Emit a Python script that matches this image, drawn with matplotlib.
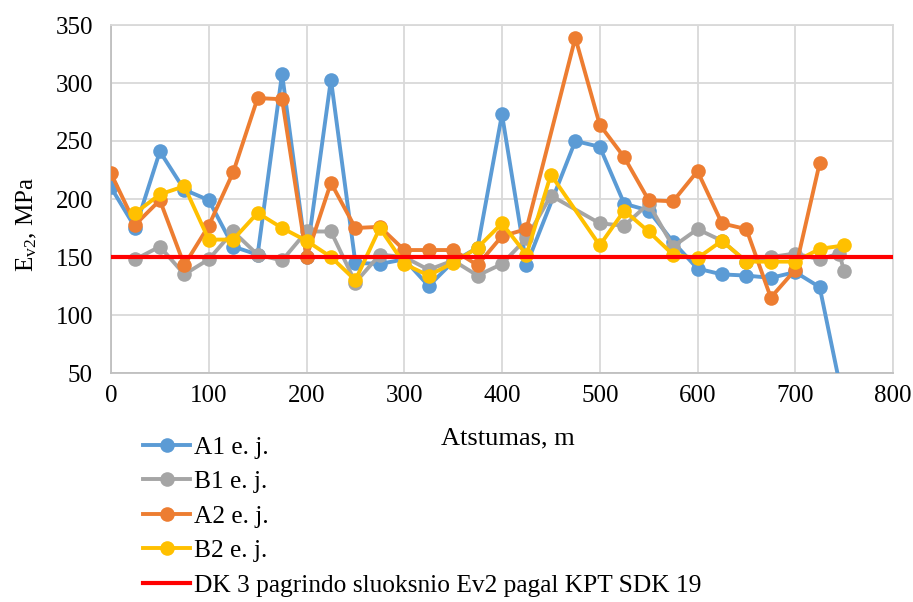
import numpy as np
import matplotlib
matplotlib.use("Agg")
import matplotlib.pyplot as plt
from matplotlib.lines import Line2D

plt.rcParams['font.family'] = ['Liberation Serif', 'DejaVu Serif']
plt.rcParams['mathtext.fontset'] = 'custom'
plt.rcParams['mathtext.rm'] = 'Liberation Serif'
plt.rcParams['mathtext.it'] = 'Liberation Serif:italic'

# Ev2 measurements along the road (distance in m, modulus in MPa)
a1_x = [0, 25, 50, 75, 100, 125, 150, 175, 200, 225, 250, 275, 300, 325, 350, 375,
        400, 425, 475, 500, 525, 550, 575, 600, 625, 650, 675, 700, 725, 750]
a1_y = [210, 175, 241, 208, 199, 159, 152, 308, 150, 303, 145, 144, 148, 125, 146, 158,
        273, 143, 250, 245, 196, 190, 163, 140, 135, 134, 132, 137, 124, 22]

b1_x = [25, 50, 75, 100, 125, 150, 175, 200, 225, 250, 275, 300, 325, 350, 375, 400,
        425, 450, 500, 525, 550, 575, 600, 625, 650, 675, 700, 725, 745, 750]
b1_y = [148, 159, 135, 148, 172, 152, 147, 172, 172, 128, 152, 150, 139, 147, 134, 144,
        166, 203, 179, 177, 196, 159, 174, 164, 146, 150, 153, 148, 153, 138]

a2_x = [0, 25, 50, 75, 100, 125, 150, 175, 200, 225, 250, 275, 300, 325, 350, 375,
        400, 425, 475, 500, 525, 550, 575, 600, 625, 650, 675, 700, 725]
a2_y = [222, 178, 199, 143, 177, 223, 287, 286, 150, 214, 175, 176, 156, 156, 156, 143,
        168, 174, 339, 264, 236, 199, 198, 224, 179, 174, 115, 139, 231]

b2_x = [25, 50, 75, 100, 125, 150, 175, 200, 225, 250, 275, 300, 325, 350, 375, 400,
        425, 450, 500, 525, 550, 575, 600, 625, 650, 675, 700, 725, 750]
b2_y = [188, 204, 211, 165, 165, 188, 175, 164, 150, 130, 175, 144, 134, 145, 158, 179,
        152, 221, 160, 190, 172, 152, 149, 164, 146, 146, 146, 157, 160]

limit_value = 150

series_labels = ['A1 e. j.', 'B1 e. j.', 'A2 e. j.', 'B2 e. j.']
limit_label = 'DK 3 pagrindo sluoksnio Ev2 pagal KPT SDK 19'
x_ticks = [0, 100, 200, 300, 400, 500, 600, 700, 800]
y_ticks = [50, 100, 150, 200, 250, 300, 350]

colors = ['#5B9BD5', '#A5A5A5', '#ED7D31', '#FFC000']
limit_color = '#FF0000'

fig = plt.figure(figsize=(9.13, 6.02), dpi=100)
ax = fig.add_axes([111 / 913, 1 - 373 / 602, (893 - 111) / 913, (373 - 25) / 602])

series = [(a1_x, a1_y), (b1_x, b1_y), (a2_x, a2_y), (b2_x, b2_y)]
handles = []
for i, ((xs, ys), lab, c) in enumerate(zip(series, series_labels, colors)):
    h, = ax.plot(xs, ys, color=c, lw=2.8, marker='o', ms=10.5,
                 markeredgewidth=0, label=lab, zorder=3 + i, clip_on=True)
    handles.append(h)

ax.axhline(limit_value, color=limit_color, lw=3, zorder=10)
handles.append(Line2D([], [], color=limit_color, lw=3))

ax.set_xlim(0, 800)
ax.set_ylim(50, 350)
ax.set_xticks(x_ticks)
ax.set_yticks(y_ticks)
ax.tick_params(axis='both', length=0, labelsize=18)
ax.tick_params(axis='y', pad=13)
ax.tick_params(axis='x', pad=9)
ax.grid(True, color='#D9D9D9', lw=1.3, zorder=0)
ax.set_axisbelow(True)
for s in ax.spines.values():
    s.set_color('#D9D9D9')
    s.set_linewidth(1.3)
ax.spines['left'].set_color('#BFBFBF')
ax.spines['bottom'].set_color('#BFBFBF')

fig.text(508 / 913, 1 - 438 / 602, 'Atstumas, m', fontsize=19,
         ha='center', va='center')
fig.text(27 / 913, 1 - 225 / 602, r'E$_{\mathrm{v2}}$, MPa', fontsize=18,
         ha='center', va='center', rotation=90)

fig.legend(handles, series_labels + [limit_label], loc='upper left',
           bbox_to_anchor=(143 / 913, 1 - 436 / 602), frameon=False,
           fontsize=18.3, handlelength=1.85, handletextpad=0.16,
           labelspacing=0.46, borderpad=0, borderaxespad=0)

fig.savefig('out.png', dpi=100)
